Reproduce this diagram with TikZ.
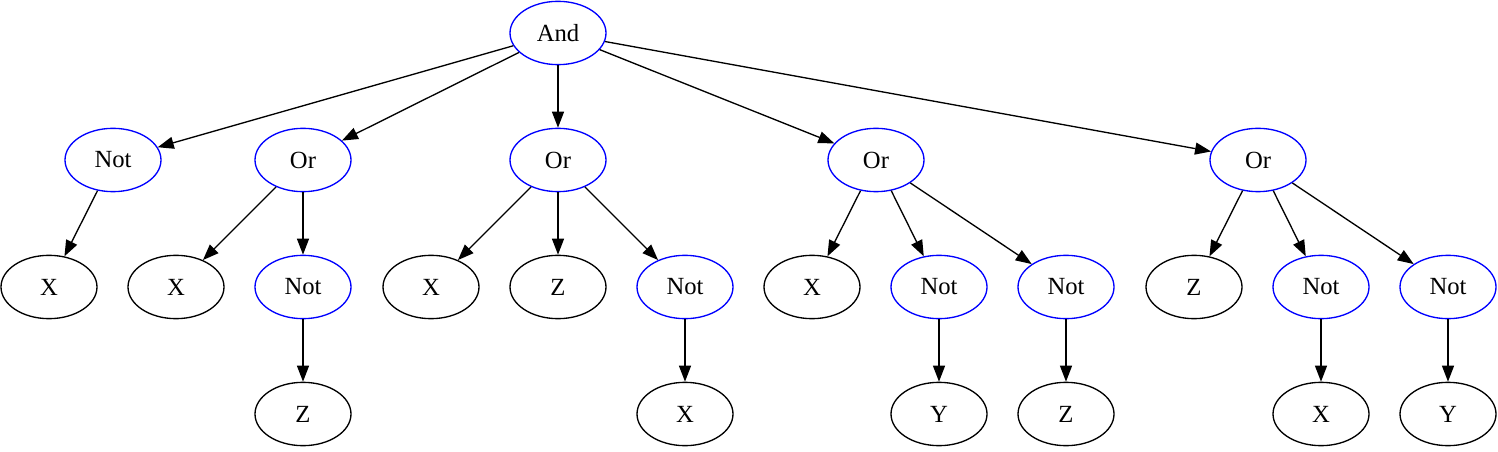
\documentclass[tikz,border=0pt]{standalone}
\usepackage{fontspec}
\setmainfont{Liberation Serif}
\usetikzlibrary{shapes.geometric,arrows.meta}
\tikzset{
  tn/.style={ellipse,draw=black,line width=1pt,minimum width=72pt,minimum height=47.5pt,inner sep=0pt,font=\fontsize{18.5}{22}\selectfont},
  op/.style={tn,draw=blue},
  edge/.style={draw=black,line width=1pt,-{Triangle[length=12pt,width=9pt]}}
}
\begin{document}
\begin{tikzpicture}[x=0.75pt,y=-0.75pt]
\useasboundingbox (0,0) rectangle (1498,452);
\node[op] (and) at (558,33) {And};
\node[op] (n1) at (113,160) {Not};
\node[op] (o1) at (303,160) {Or};
\node[op] (o2) at (558,160) {Or};
\node[op] (o3) at (876,160) {Or};
\node[op] (o4) at (1258,160) {Or};
\node[tn] (x1) at (49,287) {X};
\node[tn] (x2) at (176,287) {X};
\node[op] (n2) at (303,287) {Not};
\node[tn] (x3) at (431,287) {X};
\node[tn] (z1) at (558,287) {Z};
\node[op] (n3) at (685,287) {Not};
\node[tn] (x4) at (812,287) {X};
\node[op] (n4) at (939,287) {Not};
\node[op] (n5) at (1066,287) {Not};
\node[tn] (z2) at (1194,287) {Z};
\node[op] (n6) at (1321,287) {Not};
\node[op] (n7) at (1448,287) {Not};
\node[tn] (z3) at (303,414) {Z};
\node[tn] (x5) at (685,414) {X};
\node[tn] (y1) at (939,414) {Y};
\node[tn] (z4) at (1066,414) {Z};
\node[tn] (x6) at (1321,414) {X};
\node[tn] (y2) at (1448,414) {Y};
\foreach \a/\b in {and/n1,and/o1,and/o2,and/o3,and/o4,
  n1/x1,o1/x2,o1/n2,n2/z3,o2/x3,o2/z1,o2/n3,n3/x5,
  o3/x4,o3/n4,o3/n5,n4/y1,n5/z4,o4/z2,o4/n6,o4/n7,n6/x6,n7/y2}
  \path[edge] (\a) -- (\b);
\end{tikzpicture}
\end{document}
